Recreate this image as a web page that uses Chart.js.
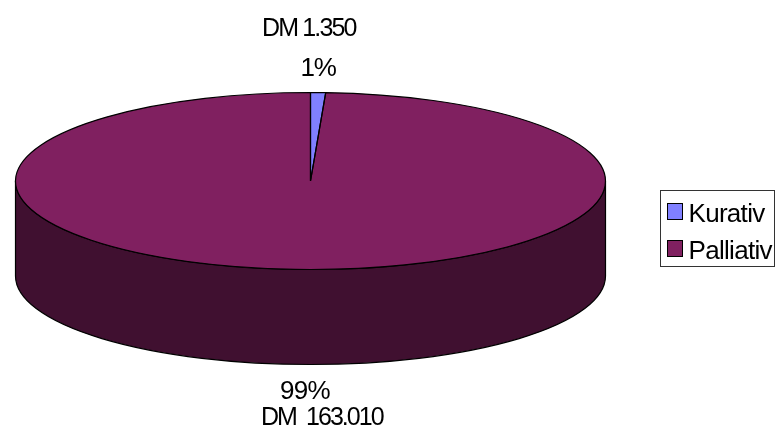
<!DOCTYPE html>
<html>
<head>
<meta charset="utf-8">
<style>
  html, body { margin: 0; padding: 0; background: #fff; overflow: hidden; }
  canvas { display: block; }
</style>
<script src="https://cdn.jsdelivr.net/npm/chart.js@4"></script>
</head>
<body>
<canvas id="chart" width="775" height="425"></canvas>
<script>
// Kosten nach Therapieziel
const categories = ['Kurativ', 'Palliativ'];
const amounts = [1350, 163010];
const topColors = ['#8080FF', '#802060'];
const sideColors = ['#404080', '#401030'];
const percentLabels = ['1%', '99%'];
const amountLabels = ['DM 1.350', 'DM  163.010'];

// Tilted-disc geometry
const RX = 295;
const DEPTH = 95;
const FONT = '"Liberation Sans", Arial, sans-serif';

function discFrame(chart) {
  const arc = chart.getDatasetMeta(0).data[0];
  const p = arc.getProps(['x', 'y', 'outerRadius'], true);
  return { x: p.x, y: p.y, ry: p.outerRadius, rx: RX };
}

const tiltedDisc = {
  id: 'tiltedDisc',
  beforeDatasetsDraw(chart) {
    const { ctx } = chart;
    const f = discFrame(chart);
    ctx.save();
    // Side wall: only the part of each slice that faces the viewer
    chart.getDatasetMeta(0).data.forEach((arc, i) => {
      const { startAngle, endAngle } = arc.getProps(['startAngle', 'endAngle'], true);
      for (const shift of [0, Math.PI * 2]) {
        const a = Math.max(startAngle, shift);
        const b = Math.min(endAngle, shift + Math.PI);
        if (b <= a) continue;
        ctx.beginPath();
        ctx.ellipse(f.x, f.y, f.rx, f.ry, 0, a, b);
        ctx.ellipse(f.x, f.y + DEPTH, f.rx, f.ry, 0, b, a, true);
        ctx.closePath();
        ctx.fillStyle = sideColors[i];
        ctx.fill();
        ctx.lineWidth = 1.2;
        ctx.strokeStyle = '#000';
        ctx.stroke();
      }
    });
    ctx.restore();
    // Slices are circular in the library; squash them into the ellipse
    ctx.save();
    ctx.translate(f.x, f.y);
    ctx.scale(f.rx / f.ry, 1);
    ctx.translate(-f.x, -f.y);
  },
  afterDatasetsDraw(chart) {
    const { ctx } = chart;
    ctx.restore();
    const f = discFrame(chart);
    ctx.save();
    ctx.lineWidth = 1.2;
    ctx.strokeStyle = '#000';
    chart.getDatasetMeta(0).data.forEach((arc) => {
      const { startAngle, endAngle } = arc.getProps(['startAngle', 'endAngle'], true);
      ctx.beginPath();
      ctx.moveTo(f.x, f.y);
      ctx.ellipse(f.x, f.y, f.rx, f.ry, 0, startAngle, endAngle);
      ctx.closePath();
      ctx.stroke();
    });
    ctx.restore();
  }
};

const annotations = {
  id: 'annotations',
  afterDraw(chart) {
    const { ctx } = chart;
    ctx.save();
    ctx.fillStyle = '#000';
    ctx.textBaseline = 'alphabetic';
    ctx.textAlign = 'left';
    ctx.fontKerning = 'normal';

    // Value labels
    ctx.font = '25px ' + FONT;
    ctx.letterSpacing = '-1.85px';
    ctx.fillText(amountLabels[0], 262, 36);
    ctx.letterSpacing = '-1.95px';
    ctx.fillText(amountLabels[1], 261, 425);
    ctx.font = '26px ' + FONT;
    ctx.letterSpacing = '-1.1px';
    ctx.fillText(percentLabels[0], 300.5, 76);
    ctx.letterSpacing = '-0.7px';
    ctx.fillText(percentLabels[1], 280, 399);

    // Legend
    ctx.lineWidth = 1;
    ctx.strokeStyle = '#333';
    ctx.strokeRect(660.5, 190.5, 114, 76);
    ctx.font = '26px ' + FONT;
    ctx.letterSpacing = '-0.7px';
    const rows = [{ swatch: 203, base: 222 }, { swatch: 240, base: 259 }];
    categories.forEach((name, i) => {
      ctx.fillStyle = topColors[i];
      ctx.strokeStyle = '#000';
      ctx.fillRect(667.5, rows[i].swatch + 0.5, 15, 16);
      ctx.strokeRect(667.5, rows[i].swatch + 0.5, 15, 16);
      ctx.fillStyle = '#000';
      ctx.fillText(name, 688.5, rows[i].base);
    });
    ctx.restore();
  }
};

new Chart(document.getElementById('chart'), {
  type: 'pie',
  data: {
    labels: categories,
    datasets: [{
      data: amounts,
      backgroundColor: topColors,
      borderWidth: 0
    }]
  },
  options: {
    responsive: false,
    animation: false,
    layout: { padding: { left: 222, right: 376, top: 92.5, bottom: 155.5 } },
    plugins: { legend: { display: false }, tooltip: { enabled: false } }
  },
  plugins: [tiltedDisc, annotations]
});
</script>
</body>
</html>
